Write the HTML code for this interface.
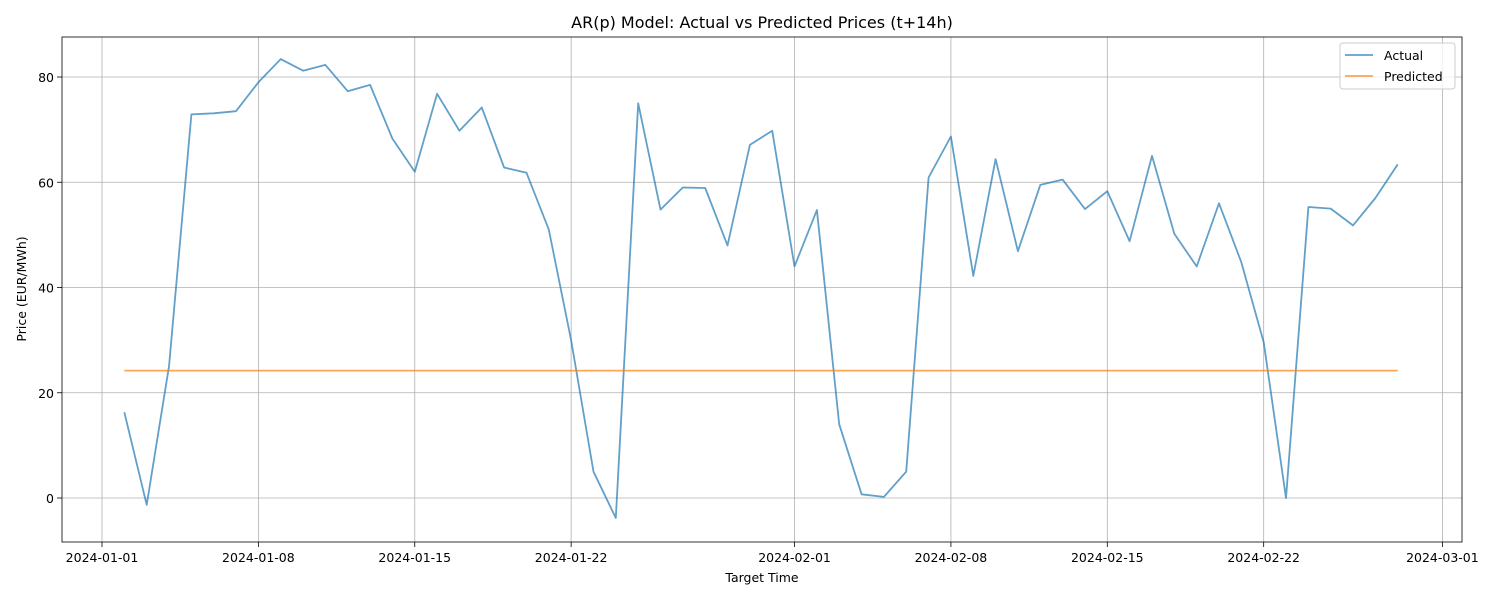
<!DOCTYPE html>
<html><head><meta charset="utf-8"><style>
body{margin:0;background:#fff;}
svg{display:block;font-family:"DejaVu Sans","Liberation Sans",sans-serif;}
</style></head><body>
<svg id="chart" width="1500" height="600"></svg>
<script>
const startDate = "2024-01-02";
const actualValues = [16.3,-1.3,25,72.9,73.1,73.5,79,83.4,81.2,82.3,77.3,78.5,68.3,62,76.8,69.8,74.2,62.8,61.8,51,30,5,-3.8,75,54.8,59,58.9,48,67.1,69.8,44,54.7,14,0.7,0.2,5,60.9,68.7,42.2,64.4,46.9,59.5,60.5,54.9,58.3,48.8,65,50.2,44,56,44.8,29.6,0,55.3,55,51.8,57,63.4];
const predictedValues = new Array(58).fill(24.2);
const yTicks = [0,20,40,60,80];
const xTickLabels = ["2024-01-01","2024-01-08","2024-01-15","2024-01-22","2024-02-01","2024-02-08","2024-02-15","2024-02-22","2024-03-01"];

const NS="http://www.w3.org/2000/svg";
const svg=document.getElementById('chart');
const L=62,R=1462,T=37,B=542;
const day0=Date.UTC(2024,0,1);
const dayPx=22.34;
function dayOf(s){const [y,m,d]=s.split('-').map(Number);return (Date.UTC(y,m-1,d)-day0)/86400000;}
function xS(day){return 102+day*dayPx;}
function yS(v){return 498-v*(421/80);}
function mk(tag,attrs,parent){const e=document.createElementNS(NS,tag);for(const k in attrs)e.setAttribute(k,attrs[k]);(parent||svg).appendChild(e);return e;}

xTickLabels.forEach(lbl=>{
  const x=xS(dayOf(lbl));
  const g=mk('line',{x1:x,x2:x,y1:T,y2:B,stroke:'#b0b0b0','stroke-width':0.8});
  
  
  mk('line',{x1:x,x2:x,y1:B,y2:B+5,stroke:'#000','stroke-width':0.8});
  const t=mk('text',{x:x,y:B+20,'text-anchor':'middle','font-size':12.5});
  t.textContent=lbl;
  
  
});
yTicks.forEach(v=>{
  const y=yS(v);
  const g=mk('line',{x1:L,x2:R,y1:y,y2:y,stroke:'#b0b0b0','stroke-width':0.8});
  
  
  mk('line',{x1:L-5,x2:L,y1:y,y2:y,stroke:'#000','stroke-width':0.8});
  const t=mk('text',{x:L-8,y:y+5,'text-anchor':'end','font-size':12.5});
  t.textContent=v;
  
  
});

const d0=dayOf(startDate);
function pts(arr){return arr.map((v,i)=>xS(d0+i).toFixed(1)+','+yS(v).toFixed(1)).join(' ');}
const la=mk('polyline',{points:pts(actualValues),fill:'none',stroke:'#1f77b4','stroke-opacity':0.7,'stroke-width':1.8,'stroke-linejoin':'round'});


const lp=mk('polyline',{points:pts(predictedValues),fill:'none',stroke:'#ff7f0e','stroke-opacity':0.7,'stroke-width':1.8});



const fr=mk('rect',{x:L,y:T,width:R-L,height:B-T,fill:'none',stroke:'#000','stroke-width':0.8});



const title=mk('text',{x:762,y:28,'text-anchor':'middle','font-size':16});
title.textContent='AR(p) Model: Actual vs Predicted Prices (t+14h)';


const xt=mk('text',{x:762,y:582,'text-anchor':'middle','font-size':12.5});
xt.textContent='Target Time';


const yt=mk('text',{x:0,y:0,'text-anchor':'middle','font-size':12.5,transform:'translate(26,289) rotate(-90)'});
yt.textContent='Price (EUR/MWh)';



const lg=mk('g',{});


mk('rect',{x:1340,y:43,width:115,height:46,rx:3,fill:'#fff','fill-opacity':0.8,stroke:'#ccc'},lg);
[['Actual','#1f77b4',55],['Predicted','#ff7f0e',76]].forEach(([n,c,y])=>{
  const e=mk('g',{},lg);
  
  
  mk('line',{x1:1345,x2:1373,y1:y,y2:y,stroke:c,'stroke-opacity':0.7,'stroke-width':1.8},e);
  const t=mk('text',{x:1384,y:y+5,'font-size':12.5},e);
  t.textContent=n;
});
</script>
</body></html>
